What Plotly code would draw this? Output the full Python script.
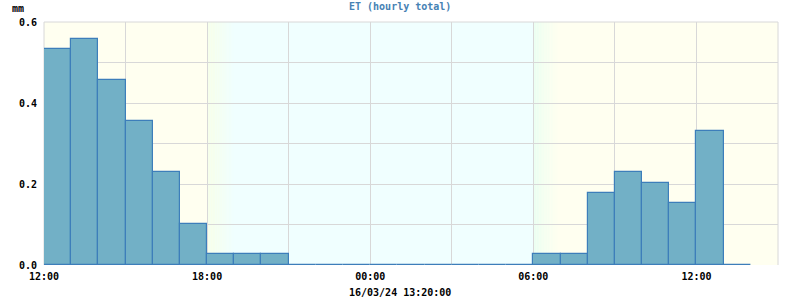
import plotly.graph_objects as go
import pandas as pd

# ---- data ----
hour_starts = [
    "2024-03-15 12:00", "2024-03-15 13:00", "2024-03-15 14:00", "2024-03-15 15:00",
    "2024-03-15 16:00", "2024-03-15 17:00", "2024-03-15 18:00", "2024-03-15 19:00",
    "2024-03-15 20:00", "2024-03-15 21:00", "2024-03-15 22:00", "2024-03-15 23:00",
    "2024-03-16 00:00", "2024-03-16 01:00", "2024-03-16 02:00", "2024-03-16 03:00",
    "2024-03-16 04:00", "2024-03-16 05:00", "2024-03-16 06:00", "2024-03-16 07:00",
    "2024-03-16 08:00", "2024-03-16 09:00", "2024-03-16 10:00", "2024-03-16 11:00",
    "2024-03-16 12:00", "2024-03-16 13:00",
]
et_mm = [
    0.534, 0.558, 0.457, 0.356, 0.230, 0.102, 0.026, 0.026,
    0.026, 0.0, 0.0, 0.0, 0.0, 0.0, 0.0, 0.0,
    0.0, 0.0, 0.026, 0.026, 0.178, 0.230, 0.203, 0.154,
    0.331, 0.0,
]
x_tick_vals = ["2024-03-15 12:00", "2024-03-15 18:00", "2024-03-16 00:00",
               "2024-03-16 06:00", "2024-03-16 12:00"]
x_tick_text = ["12:00", "18:00", "00:00", "06:00", "12:00"]
x_range = ["2024-03-15 12:00", "2024-03-16 15:00"]
y_tick_vals = [0.0, 0.2, 0.4, 0.6]
y_tick_text = ["0.0", "0.2", "0.4", "0.6"]
title_text = "ET (hourly total)"
unit_text = "mm"
stamp_text = "16/03/24 13:20:00"

# ---- styling ----
FONT = "DejaVu Sans Mono"
BAR_FILL = "#72B0C6"
BAR_EDGE = "#3D7EBA"
TITLE_COL = "#4682B4"
GRID = "#D8D8D8"
DAY = (255, 255, 240)
NIGHT = (240, 255, 255)
L, R, T, B = 44, 22, 22, 35


def hexc(c):
    return "rgb(%d,%d,%d)" % c


def mix(a, b, t):
    return tuple(round(a[i] + (b[i] - a[i]) * t) for i in range(3))


shapes = []


def rect(x0, x1, color):
    shapes.append(dict(type="rect", xref="x", yref="paper", x0=x0, x1=x1, y0=0, y1=1,
                       fillcolor=color, line=dict(width=0), layer="below"))


rect(x_range[0], "2024-03-15 18:00", hexc(DAY))
rect("2024-03-15 18:00", "2024-03-16 06:00", hexc(NIGHT))
rect("2024-03-16 06:00", x_range[1], hexc(DAY))

dusk_start = (248, 255, 232)
dawn_start = (234, 255, 242)
steps = 16
t0 = pd.Timestamp("2024-03-15 18:00")
t1 = pd.Timestamp("2024-03-16 06:00")
for i in range(steps):
    a = t0 + pd.Timedelta(minutes=60 * i / steps)
    b = t0 + pd.Timedelta(minutes=60 * (i + 1) / steps)
    rect(a, b, hexc(mix(dusk_start, NIGHT, (i + 0.5) / steps)))
for i in range(steps):
    a = t1 + pd.Timedelta(minutes=55 * i / steps)
    b = t1 + pd.Timedelta(minutes=55 * (i + 1) / steps)
    rect(a, b, hexc(mix(dawn_start, DAY, (i + 0.5) / steps)))

# frame on top / left / right
for xs, ys in [((0, 1), (1, 1)), ((0, 0), (0, 1)), ((1, 1), (0, 1))]:
    shapes.append(dict(type="line", xref="paper", yref="paper", x0=xs[0], x1=xs[1],
                       y0=ys[0], y1=ys[1], line=dict(color=GRID, width=1), layer="below"))

fig = go.Figure()
fig.add_trace(go.Bar(
    x=hour_starts, y=et_mm, width=3600 * 1000, offset=0,
    marker=dict(color=BAR_FILL, line=dict(color=BAR_EDGE, width=1.2)),
    hoverinfo="skip",
))

plot_w = 800 - L - R
plot_h = 300 - T - B


def px_to_paper(px, py):
    return (px - L) / plot_w, (300 - B - py) / plot_h


def ann(text, px, py, color, weight="bold", size=10):
    xx, yy = px_to_paper(px, py)
    return dict(text=text, x=xx, y=yy, xref="paper", yref="paper", showarrow=False,
                xanchor="center", yanchor="middle",
                font=dict(family=FONT, size=size, color=color, weight=weight))


fig.update_layout(
    width=800, height=300,
    margin=dict(l=L, r=R, t=T, b=B),
    paper_bgcolor="white", plot_bgcolor="white",
    showlegend=False, bargap=0,
    shapes=shapes,
    font=dict(family=FONT, size=10, color="black", weight="bold"),
    xaxis=dict(
        type="date", range=x_range,
        tickmode="array", tickvals=x_tick_vals, ticktext=x_tick_text,
        showgrid=True, gridcolor=GRID, gridwidth=1,
        minor=dict(dtick=3 * 3600 * 1000, tick0="2024-03-15 12:00", showgrid=True,
                   gridcolor=GRID, gridwidth=1),
        showline=False, zeroline=False, ticks="", ticklabelstandoff=4,
        tickfont=dict(family=FONT, size=10, color="black", weight="bold"),
    ),
    yaxis=dict(
        range=[0, 0.6],
        tickmode="array", tickvals=y_tick_vals, ticktext=y_tick_text,
        showgrid=True, gridcolor=GRID, gridwidth=1,
        minor=dict(dtick=0.1, showgrid=True, gridcolor=GRID, gridwidth=1),
        showline=False, zeroline=False, ticks="", ticklabelstandoff=6,
        tickfont=dict(family=FONT, size=10, color="black", weight="bold"),
    ),
    annotations=[
        ann(title_text, 400, 6, TITLE_COL),
        ann(unit_text, 18, 8, "black"),
        ann(stamp_text, 400, 292, "black"),
    ],
)

fig.write_html("out.html", config={"displayModeBar": False})
